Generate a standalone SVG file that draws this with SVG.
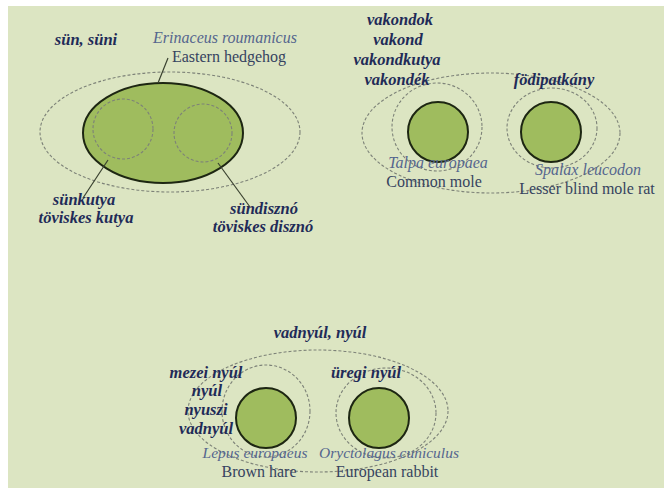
<svg xmlns="http://www.w3.org/2000/svg" width="665" height="488" viewBox="0 0 665 488">
<style>
.bg{fill:#dce5c2}
.solid{fill:#9fbc5e;stroke:#1d2612;stroke-width:2}
.dash{fill:none;stroke:#7d8278;stroke-width:1.1;stroke-dasharray:3 2}
.lbl{font-family:"Liberation Serif",serif;font-size:16.5px;font-weight:bold;font-style:italic;fill:#1f2b58;text-anchor:middle}
.sci{font-family:"Liberation Serif",serif;font-size:16px;font-style:italic;fill:#55668e;text-anchor:middle}
.sci2{font-size:15.5px}
.com{font-family:"Liberation Serif",serif;font-size:16px;fill:#36435f;text-anchor:middle}
.ln{stroke:#3a4230;stroke-width:1.2;fill:none}
</style>
<rect x="0" y="0" width="665" height="488" fill="#ffffff"/>
<rect class="bg" x="8" y="6" width="656" height="482"/>

<g id="hedgehog">
<ellipse class="dash" cx="170" cy="132" rx="130" ry="60"/>
<ellipse class="solid" cx="163" cy="133" rx="80" ry="50"/>
<circle class="dash" cx="123" cy="129" r="30"/>
<circle class="dash" cx="203" cy="133" r="29"/>
<text class="sci" x="225" y="43">Erinaceus roumanicus</text>
<text class="com" x="229" y="62">Eastern hedgehog</text>
<text class="lbl" x="86" y="45">sün, süni</text>
<text class="lbl" x="84" y="205">sünkutya</text>
<text class="lbl" x="86" y="223">töviskes kutya</text>
<text class="lbl" x="264" y="214">sündisznó</text>
<text class="lbl" x="263" y="232">töviskes disznó</text>
</g>

<g id="moles">
<ellipse class="dash" cx="491" cy="133" rx="129" ry="60"/>
<ellipse class="dash" cx="437" cy="127" rx="45" ry="44"/>
<ellipse class="dash" cx="552" cy="128" rx="45" ry="40"/>
<circle class="solid" cx="438" cy="132" r="30"/>
<circle class="solid" cx="551" cy="132" r="30"/>
<text class="lbl" x="400" y="25">vakondok</text>
<text class="lbl" x="398" y="45">vakond</text>
<text class="lbl" x="397" y="65">vakondkutya</text>
<text class="lbl" x="397" y="85">vakondék</text>
<text class="lbl" x="554" y="85">födipatkány</text>
<text class="sci" x="438" y="168">Talpa europaea</text>
<text class="com" x="434" y="187">Common mole</text>
<text class="sci" x="588" y="175">Spalax leucodon</text>
<text class="com" x="587" y="194">Lesser blind mole rat</text>
</g>

<g id="hares">
<ellipse class="dash" cx="318" cy="411" rx="130" ry="61"/>
<ellipse class="dash" cx="266" cy="411" rx="44" ry="46"/>
<ellipse class="dash" cx="386" cy="413" rx="50" ry="45"/>
<circle class="solid" cx="266" cy="418" r="30"/>
<circle class="solid" cx="379" cy="418" r="30"/>
<text class="lbl" x="320" y="338">vadnyúl, nyúl</text>
<text class="lbl" x="206" y="378">mezei nyúl</text>
<text class="lbl" x="207" y="396">nyúl</text>
<text class="lbl" x="206" y="415">nyuszi</text>
<text class="lbl" x="206" y="434">vadnyúl</text>
<text class="lbl" x="366" y="378">üregi nyúl</text>
<text class="sci sci2" x="255" y="458">Lepus europaeus</text>
<text class="com" x="259" y="477">Brown hare</text>
<text class="sci sci2" x="389" y="458">Oryctolagus cuniculus</text>
<text class="com" x="387" y="477">European rabbit</text>
</g>

<g id="connectors">
<line class="ln" x1="168" y1="58" x2="158" y2="83"/>
<line class="ln" x1="108" y1="160" x2="83" y2="198"/>
<line class="ln" x1="218" y1="163" x2="250" y2="207"/>
</g>
</svg>
